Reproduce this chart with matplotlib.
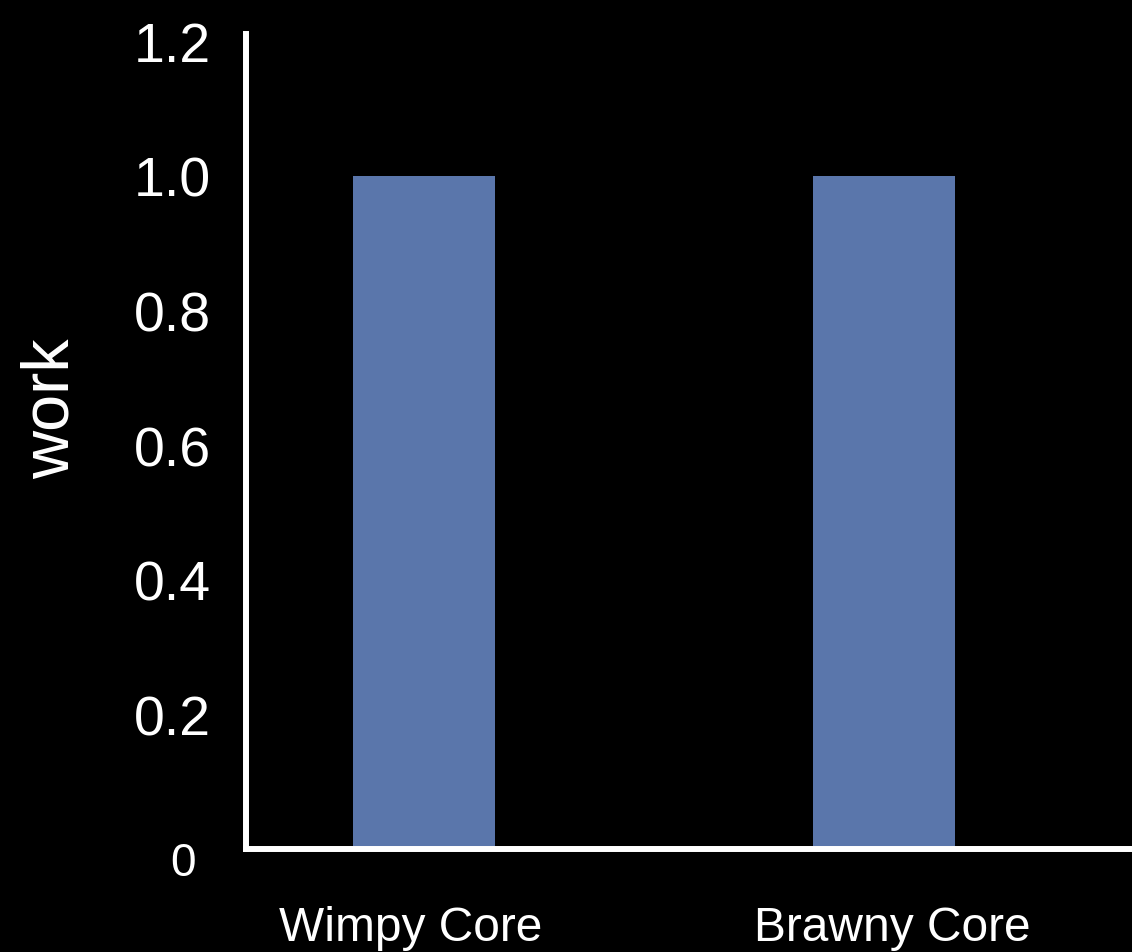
import matplotlib.pyplot as plt
from matplotlib.transforms import ScaledTranslation

categories = ["Wimpy Core", "Brawny Core"]
work = [1.0, 1.0]
y_ticks = [0, 0.2, 0.4, 0.6, 0.8, 1.0, 1.2]
y_tick_labels = ["0", "0.2", "0.4", "0.6", "0.8", "1.0", "1.2"]

plt.rcParams['font.family'] = ['Liberation Sans', 'DejaVu Sans']

fig = plt.figure(figsize=(11.32, 9.53), dpi=100, facecolor='black')
ax = fig.add_axes([0.2173, 0.1081, 0.7827, 0.8552], facecolor='black')

x = range(len(categories))
ax.bar(x, work, width=0.309, color='#5a76ab')

ax.set_xlim(-0.387, 1.539)
ax.set_ylim(0, 1.211)

ax.set_yticks(y_ticks)
ax.set_yticklabels(y_tick_labels, fontsize=40, color='white')
ax.set_xticks(list(x))
ax.set_xticklabels(categories, fontsize=34.5, color='white')
ax.tick_params(axis='y', length=0, pad=25)
ax.tick_params(axis='x', length=0, pad=40)

# category labels sit a little off the bar centres
for lbl, dx in zip(ax.get_xticklabels(), [-13, 8]):
    lbl.set_transform(lbl.get_transform() + ScaledTranslation(dx / 100, 0, fig.dpi_scale_trans))

# the zero label is set in a smaller face
zero = ax.get_yticklabels()[0]
zero.set_fontsize(33)
zero.set_transform(zero.get_transform() + ScaledTranslation(-0.16, -0.09, fig.dpi_scale_trans))

fig.text(52 / 1132, 1 - 409 / 953, "work", rotation=90, ha='center', va='center',
         fontsize=48, color='white')

for side in ['top', 'right']:
    ax.spines[side].set_visible(False)
for side in ['left', 'bottom']:
    ax.spines[side].set_color('white')
    ax.spines[side].set_linewidth(4.3)

fig.savefig("out.png", dpi=100, facecolor='black')
